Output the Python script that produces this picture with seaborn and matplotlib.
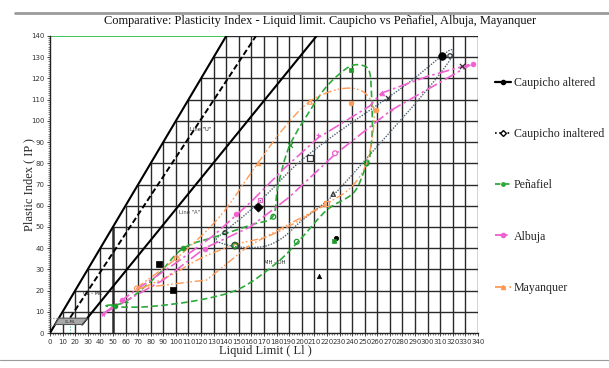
import numpy as np
import matplotlib
matplotlib.use("Agg")
import matplotlib.pyplot as plt
from matplotlib.path import Path
from matplotlib.patches import PathPatch, Polygon
from matplotlib.lines import Line2D
from matplotlib.ticker import MultipleLocator
import seaborn as sns

sns.set_style("white")
plt.rcParams["font.family"] = ["DejaVu Sans"]

# ---------------- axis ranges / ticks ----------------
LL_MAX, PI_MAX = 340, 140
x_ticks = list(range(0, 341, 10))
y_ticks = list(range(0, 141, 10))

# ---------------- Casagrande reference lines ----------------
upper_ll = [0, 140]            # PI = LL limit
upper_pi = [0, 140]
u_ll = [16, 163.6]             # Line "U": PI = 0.9 (LL - 8)
u_pi = [7.2, 140]
a_ll = [25.5, 211.8]           # Line "A": PI = 0.73 (LL - 20)
a_pi = [4.0, 140]
clml_ll = [4, 7, 29.6, 25.5]   # CL-ML hatched zone
clml_pi = [4, 7, 7, 4]

# ---------------- Caupicho altered ----------------
alt_ll = [311.7, 165.5, 86.6, 98.0, 227.2, 214.0]
alt_pi = [130.6, 59.6, 32.5, 20.3, 44.9, 27.0]
alt_mk = ["o", "D", "s", "s", "o", "^"]
alt_sz = [30, 22, 16, 22, 10, 10]

# ---------------- Caupicho inaltered ----------------
inalt_ll = [317.8, 268.8, 327.0, 206.5, 225.0, 139.0, 147.0]
inalt_pi = [130.6, 111.0, 126.0, 82.4, 65.5, 47.3, 41.2]
inalt_mk = ["o", "x", "x", "s", "^", "o", "o"]
inalt_sz = [10, 14, 14, 16, 10, 8, 22]
inalt_env_ll = [132, 140, 157.5, 175, 197, 225, 254, 285, 311, 319, 318, 300, 275, 257, 225, 200, 185, 170, 150, 138]
inalt_env_pi = [44, 48.5, 57, 67, 80, 93, 105, 118, 130.5, 133.5, 129, 115, 98, 86, 65, 53, 45, 40.8, 40.5, 42]

# ---------------- Peñafiel ----------------
pen_ll = [51.6, 60.0, 106.0, 177.4, 190.6, 238.9, 196.0, 225.6, 251.6, 147.0]
pen_pi = [12.7, 14.6, 40.0, 54.8, 88.6, 124.0, 43.0, 43.5, 80.0, 41.2]
pen_mk = ["o", "+", "o", "o", "x", "s", "o", "s", "o", "o"]
pen_fill = [True, True, True, False, True, True, False, True, False, False]
pen_env_ll = [45, 60, 85, 106, 135, 160, 177, 181, 190.6, 210, 222, 238, 249, 254, 255.5, 256, 254, 250, 241, 220, 198.6, 180, 151, 119, 80, 52]
pen_env_pi = [13, 14.8, 27, 40, 46, 51, 55, 69, 88.6, 108, 117.7, 125.6, 126, 122.6, 111, 96, 83, 77, 66, 58, 44, 33, 21, 15.6, 12.5, 12.3]

# ---------------- Albuja ----------------
alb_ll = [42.3, 57.0, 123.0, 148.0, 166.8, 213.0, 226.4, 263.5, 271.0, 336.0]
alb_pi = [9.0, 15.6, 39.6, 56.0, 62.7, 93.3, 84.7, 113.3, 105.0, 127.0]
alb_mk = ["*", "o", "o", "o", "s", "+", "o", "^", "+", "o"]
alb_fill = [True, True, True, True, False, True, False, True, True, True]
alb_up_ll = [42, 70, 100, 130, 160, 185, 213, 254, 263, 300, 336]
alb_up_pi = [9, 21, 33, 46, 62, 77, 92, 107, 113, 121, 127]
alb_lo_ll = [42, 90, 123, 159, 190, 226, 271, 334]
alb_lo_pi = [9, 25, 40, 50, 64, 84, 105, 126.4]

# ---------------- Mayanquer ----------------
may_ll = [69.0, 100.6, 165.5, 206.5, 219.8, 239.0, 258.7]
may_pi = [21.0, 35.2, 80.0, 109.0, 61.0, 108.6, 105.0]
may_mk = ["o", "o", "^", "^", "s", "o", "o"]
may_fill = [False, False, True, False, False, True, True]
may_env_ll = [69, 102, 135, 165, 185, 206, 230, 248, 257, 256, 250, 238, 220, 195, 172, 146, 119, 95]
may_env_pi = [21, 36, 55, 80, 96, 109, 115, 114, 106, 92, 78, 68, 61, 52, 45.4, 41.5, 35, 27]
may_tr_ll = [69, 124.5, 157, 220]
may_tr_pi = [21, 25, 40.7, 61]

C_GREEN = "#2eaa3a"
C_PINK = "#f060d0"
C_ORANGE = "#ff9a55"
C_GRAY = "#4f6272"
GRID = "#2a2a2a"

DASH_GREEN = (0, (4, 2))
DASH_PINK = (0, (7, 2, 1.5, 2))
DASH_ORANGE = (0, (6, 2, 1.2, 1.6, 1.2, 2))
DOT_GRAY = (0, (1, 1))


def smooth_closed(xs, ys):
    """Closed Catmull-Rom curve through the given outline points, as a Bezier path."""
    P = np.column_stack([xs, ys]).astype(float)
    n = len(P)
    verts = [P[0]]
    codes = [Path.MOVETO]
    for i in range(n):
        p0, p1, p2, p3 = P[(i - 1) % n], P[i], P[(i + 1) % n], P[(i + 2) % n]
        verts += [p1 + (p2 - p0) / 6.0, p2 - (p3 - p1) / 6.0, p2]
        codes += [Path.CURVE4] * 3
    return Path(verts, codes)


fig = plt.figure(figsize=(6.09, 3.68), dpi=100)
ax = fig.add_axes([50 / 609, 35 / 368, 428 / 609, 297 / 368])
ax.set_xlim(0, LL_MAX)
ax.set_ylim(0, PI_MAX)

# grid clipped to the physically possible region (PI <= LL)
for x in x_ticks[1:]:
    ax.vlines(x, 0, min(x, PI_MAX), color=GRID, lw=1.8 if x == 50 else 1.0, zorder=1)
for y in y_ticks[1:]:
    ax.hlines(y, y, LL_MAX, color=GRID, lw=1.0, zorder=1)
ax.hlines(PI_MAX, 0, PI_MAX, color="#33c24a", lw=1.3, zorder=2)

# chart reference lines
sns.lineplot(x=upper_ll, y=upper_pi, ax=ax, color="black", lw=1.5, zorder=3)
sns.lineplot(x=u_ll, y=u_pi, ax=ax, color="black", lw=1.4, linestyle=(0, (3, 1.5)), zorder=3)
sns.lineplot(x=a_ll, y=a_pi, ax=ax, color="black", lw=1.5, zorder=3)
ax.add_patch(Polygon(np.column_stack([clml_ll, clml_pi]), closed=True,
                     facecolor="#a8a8a8", edgecolor="#555555", lw=0.8, zorder=3))
ax.hlines([7, 4], 0, [7, 4], color="#888888", lw=0.8, linestyles=":", zorder=3)
ax.vlines(16, 0, 4, color="#30c080", lw=0.8, linestyles=":", zorder=3)

ax.text(120, 96, 'Line "U"', fontsize=3.8, ha="center", va="center", color="#222222", zorder=4)
ax.text(111, 57, 'Line "A"', fontsize=3.8, ha="center", va="center", color="#444444", zorder=4)
ax.text(178.7, 33, "MH - OH", fontsize=3.8, ha="center", va="center", color="#222222", zorder=4)
ax.text(34, 18.7, "CL - ML", fontsize=3.8, ha="center", va="center", color="#222222", zorder=4)
ax.text(16, 5.3, "CL-ML", fontsize=2.6, ha="center", va="center", color="#222222", zorder=4)

# envelopes
ax.add_patch(PathPatch(smooth_closed(inalt_env_ll, inalt_env_pi), fill=False,
                       edgecolor=C_GRAY, lw=1.0, linestyle=DOT_GRAY, zorder=5))
ax.add_patch(PathPatch(smooth_closed(pen_env_ll, pen_env_pi), fill=False,
                       edgecolor=C_GREEN, lw=1.2, linestyle=DASH_GREEN, zorder=5))
ax.add_patch(PathPatch(smooth_closed(may_env_ll, may_env_pi), fill=False,
                       edgecolor=C_ORANGE, lw=1.0, linestyle=DASH_ORANGE, zorder=5))

# trend lines
sns.lineplot(x=alb_up_ll, y=alb_up_pi, ax=ax, sort=False, color=C_PINK, lw=1.2, linestyle=DASH_PINK, zorder=5)
sns.lineplot(x=alb_lo_ll, y=alb_lo_pi, ax=ax, sort=False, color=C_PINK, lw=1.2, linestyle=DASH_PINK, zorder=5)
sns.lineplot(x=may_tr_ll, y=may_tr_pi, ax=ax, sort=False, color=C_ORANGE, lw=1.0, linestyle=DASH_ORANGE, zorder=5)


def put_points(xs, ys, mks, color, fills=None, sizes=None):
    for i, (x, y, m) in enumerate(zip(xs, ys, mks)):
        filled = True if fills is None else fills[i]
        s = 12 if sizes is None else sizes[i]
        if m in ("x", "+"):
            sns.scatterplot(x=[x], y=[y], ax=ax, marker=m, s=s, color=color, linewidth=0.9, zorder=6)
        elif filled:
            sns.scatterplot(x=[x], y=[y], ax=ax, marker=m, s=s, color=color, edgecolor=color, linewidth=0.5, zorder=6)
        else:
            sns.scatterplot(x=[x], y=[y], ax=ax, marker=m, s=s, facecolor="none", edgecolor=color, linewidth=0.9, zorder=6)


put_points(alt_ll, alt_pi, alt_mk, "black", sizes=alt_sz)
put_points(inalt_ll, inalt_pi, inalt_mk, "#333333", fills=[False] * len(inalt_ll), sizes=inalt_sz)
put_points(pen_ll, pen_pi, pen_mk, "#1c9a2a", fills=pen_fill)
put_points(alb_ll, alb_pi, alb_mk, C_PINK, fills=alb_fill)
put_points(may_ll, may_pi, may_mk, C_ORANGE, fills=may_fill)

# axes styling
for side in ("top", "right"):
    ax.spines[side].set_visible(False)
for side in ("left", "bottom"):
    ax.spines[side].set_color("#222222")
    ax.spines[side].set_linewidth(1.0)
ax.set_xticks(x_ticks)
ax.set_yticks(y_ticks)
ax.xaxis.set_minor_locator(MultipleLocator(2))
ax.yaxis.set_minor_locator(MultipleLocator(1))
ax.tick_params(axis="both", which="major", direction="out", length=2.5, width=0.6,
               labelsize=5, labelcolor="#333333", pad=1.5)
ax.tick_params(axis="both", which="minor", direction="out", length=1.3, width=0.4)
ax.tick_params(left=True, bottom=True, which="both")

SERIF = ["Liberation Serif", "DejaVu Serif"]
fig.text(0.525, 1 - 21 / 368, "Comparative: Plasticity Index - Liquid limit. Caupicho vs Peñafiel, Albuja, Mayanquer",
         ha="center", va="center", fontsize=8.9, family=SERIF, color="#111111")
ax.set_xlabel("Liquid Limit ( Ll )", fontsize=9, family=SERIF, labelpad=0.5)
ax.xaxis.set_label_coords(215 / 428, -0.04)
ax.set_ylabel("Plastic Index ( IP )", fontsize=9, family=SERIF, labelpad=1)
ax.yaxis.set_label_coords(-0.034, 0.5)

# page rules
fig.add_artist(Line2D([15 / 609, 1], [1 - 13 / 368] * 2, color="#9a9a9a", lw=2.0))
fig.add_artist(Line2D([0, 1], [1 - 360 / 368] * 2, color="#9a9a9a", lw=0.8))

handles = [
    Line2D([], [], color="black", lw=1.6, marker="o", ms=3),
    Line2D([], [], color="black", lw=1.2, linestyle=(0, (1, 1.5)), marker="D", ms=3, mfc="white"),
    Line2D([], [], color=C_GREEN, lw=1.3, linestyle=(0, (3, 2)), marker="o", ms=2.5),
    Line2D([], [], color=C_PINK, lw=1.3, linestyle=DASH_PINK, marker="o", ms=3),
    Line2D([], [], color=C_ORANGE, lw=1.3, linestyle=DASH_ORANGE, marker="^", ms=3),
]
labels = ["Caupicho altered", "Caupicho inaltered", "Peñafiel", "Albuja", "Mayanquer"]
fig.legend(handles, labels, loc="upper left", bbox_to_anchor=(495 / 609, 1 - 77 / 368),
           frameon=False, prop={"family": SERIF, "size": 8.6}, labelspacing=3.28,
           handlelength=1.35, handletextpad=0.25, borderaxespad=0, borderpad=0)

fig.savefig("out.png", dpi=100)
